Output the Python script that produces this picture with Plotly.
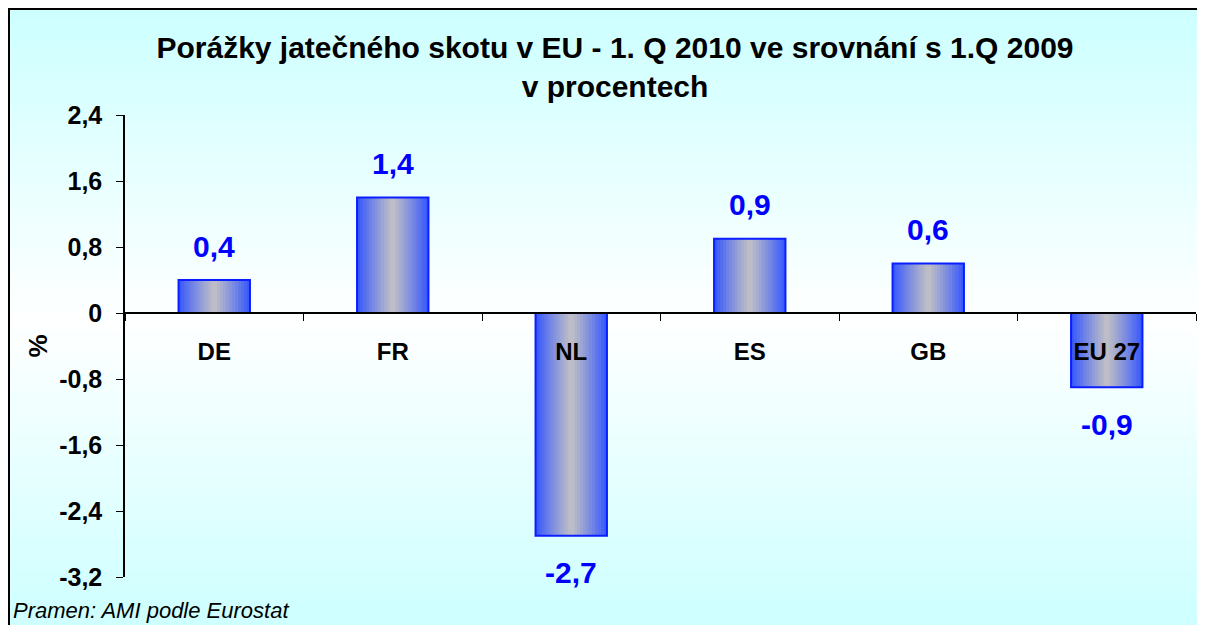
import plotly.graph_objects as go

categories = ["DE", "FR", "NL", "ES", "GB", "EU 27"]
values = [0.4, 1.4, -2.7, 0.9, 0.6, -0.9]
y_tickvals = [2.4, 1.6, 0.8, 0, -0.8, -1.6, -2.4, -3.2]
y_ticktext = ["2,4", "1,6", "0,8", "0", "-0,8", "-1,6", "-2,4", "-3,2"]
value_labels = [f"{v:.1f}".replace(".", ",") for v in values]

FONT = "Liberation Sans, Arial, sans-serif"
W, H = 1189, 617
ML, MR, MT, MB = 117, 1, 107, 48
PW, PH = W - ML - MR, H - MT - MB

def px_x(p):
    return (p - ML) / PW

def px_y(p):
    return (H - MB - p) / PH

def mix(c1, c2, t):
    return "rgb(%d,%d,%d)" % tuple(round(a + (b - a) * t) for a, b in zip(c1, c2))

fig = go.Figure()

# gradient bars built from thin overlaid strips
BAR_W = 0.4
N = 24
sw = BAR_W / N
edge = (52, 86, 255)
center = (192, 192, 196)
for i in range(N):
    left = -BAR_W / 2 + i * sw
    right = min(left + sw * 1.6, BAR_W / 2)
    mid = left + sw / 2
    t = min(abs(mid) / (BAR_W / 2), 1.0) ** 1.1
    fig.add_trace(go.Bar(
        x=categories, y=values, offset=left, width=right - left,
        marker=dict(color=mix(center, edge, t), line=dict(width=0)),
        hoverinfo="skip", showlegend=False,
    ))

# outline
fig.add_trace(go.Bar(
    x=categories, y=values, offset=-BAR_W / 2, width=BAR_W,
    marker=dict(color="rgba(0,0,0,0)", line=dict(color="#0A1EFF", width=2)),
    showlegend=False,
))

# value labels
for c, v, lab in zip(categories, values, value_labels):
    fig.add_annotation(
        x=c, y=v, text=lab, showarrow=False,
        yshift=34 if v > 0 else -37,
        font=dict(family=FONT, size=30, color="#0000FF", weight="bold"),
        xref="x", yref="y",
    )

# background gradient (white in the middle, cyan at top and bottom)
shapes = []
n_strips = 60
top_px, bot_px = 0, 625
cyan = (204, 255, 255)
white = (255, 255, 255)
for k in range(n_strips):
    y0p = top_px + (bot_px - top_px) * k / n_strips
    y1p = top_px + (bot_px - top_px) * (k + 1) / n_strips + 1
    frac = (k + 0.5) / n_strips
    t = abs(frac - 0.5) / 0.5
    shapes.append(dict(
        type="rect", xref="paper", yref="paper", layer="below",
        x0=px_x(0), x1=px_x(W + 5), y0=px_y(y1p), y1=px_y(y0p),
        fillcolor=mix(white, cyan, t), line=dict(width=0),
    ))
# border: top and left edges (the rest lies outside the visible area)
shapes.append(dict(
    type="line", xref="paper", yref="paper", layer="above",
    x0=px_x(0), x1=px_x(W + 5), y0=px_y(1), y1=px_y(1),
    line=dict(color="black", width=2),
))
shapes.append(dict(
    type="line", xref="paper", yref="paper", layer="above",
    x0=px_x(1), x1=px_x(1), y0=px_y(0), y1=px_y(H + 5),
    line=dict(color="black", width=2),
))

fig.add_annotation(
    text="<i>Pramen: AMI podle Eurostat</i>", xref="paper", yref="paper",
    x=px_x(3), y=px_y(602), xanchor="left", yanchor="middle", showarrow=False,
    font=dict(family=FONT, size=22, color="black"),
)

fig.update_layout(
    width=W, height=H,
    margin=dict(l=ML, r=MR, t=MT, b=MB, autoexpand=False),
    paper_bgcolor="white", plot_bgcolor="rgba(0,0,0,0)",
    barmode="overlay",
    shapes=shapes,
    title=dict(
        text="Porážky jatečného skotu v EU - 1. Q 2010 ve srovnání s 1.Q 2009<br>v procentech",
        x=607 / W, xref="container", xanchor="center",
        y=1 - 49.5 / H, yref="container", yanchor="middle",
        font=dict(family=FONT, size=30, color="black", weight="bold"),
    ),
    xaxis=dict(
        type="category", anchor="free", position=px_y(305),
        showline=True, linecolor="black", linewidth=1.5,
        ticks="outside", tickson="boundaries", ticklen=7, tickcolor="black",
        ticklabelstandoff=17,
        tickfont=dict(family=FONT, size=24, color="black", weight="bold"),
        showgrid=False, zeroline=False, range=[-0.5, 5.5],
    ),
    yaxis=dict(
        range=[-3.2, 2.4], tickvals=y_tickvals, ticktext=y_ticktext,
        showline=True, linecolor="black", linewidth=1.5,
        ticks="outside", ticklen=7, tickcolor="black",
        ticklabelstandoff=9,
        tickfont=dict(family=FONT, size=25, color="black", weight="bold"),
        showgrid=False, zeroline=False,
        title=dict(text="%", standoff=4,
                   font=dict(family=FONT, size=26, color="black", weight="bold")),
    ),
    font=dict(family=FONT),
)

fig.write_html("out.html")
